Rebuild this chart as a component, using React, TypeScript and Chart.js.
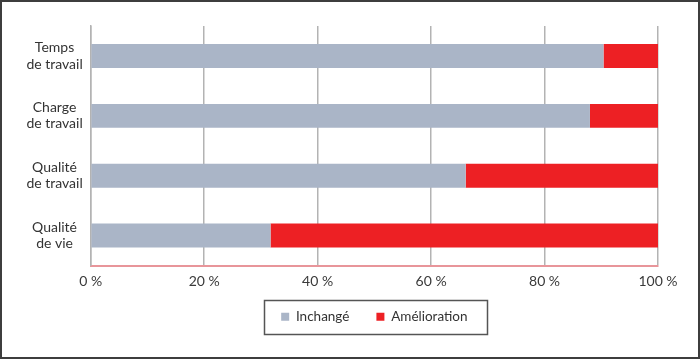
import React, { useEffect, useRef } from "react";
import { Chart, registerables } from "chart.js";

Chart.register(...registerables);

const categories: string[][] = [
  ["Temps", "de travail"],
  ["Charge", "de travail"],
  ["Qualité", "de travail"],
  ["Qualité", "de vie"],
];
const inchange: number[] = [90.4, 88.0, 66.1, 31.7];
const amelioration: number[] = [9.6, 12.0, 33.9, 68.3];
const seriesLabels: string[] = ["Inchangé", "Amélioration"];
const xTicks: number[] = [0, 20, 40, 60, 80, 100];

const FONT = "Lato, 'Open Sans', sans-serif";

const legendFrame = {
  id: "legendFrame",
  afterLayout(chart: any) {
    const lg = chart.legend;
    if (lg) {
      lg.top -= 12.5;
      lg.bottom -= 12.5;
    }
  },
  afterDraw(chart: any) {
    const lg = chart.legend;
    if (!lg || !lg.legendHitBoxes || !lg.legendHitBoxes.length) return;
    const hb = lg.legendHitBoxes;
    let minX = Infinity, maxX = -Infinity, minY = Infinity, maxY = -Infinity;
    for (const h of hb) {
      minX = Math.min(minX, h.left);
      maxX = Math.max(maxX, h.left + h.width);
      minY = Math.min(minY, h.top);
      maxY = Math.max(maxY, h.top + h.height);
    }
    const cy = (minY + maxY) / 2;
    const ctx = chart.ctx;
    ctx.save();
    ctx.strokeStyle = "#555555";
    ctx.lineWidth = 1.5;
    ctx.strokeRect(Math.round(minX - 17) + 0.5, Math.round(cy - 17) + 0.5, Math.round(maxX - minX + 37), 34);
    ctx.restore();
  },
};

export default function App() {
  const ref = useRef<HTMLCanvasElement | null>(null);
  useEffect(() => {
    if (!ref.current) return;
    const chart = new Chart(ref.current, {
      type: "bar",
      data: {
        labels: categories,
        datasets: [
          {
            label: seriesLabels[0],
            data: inchange,
            backgroundColor: "#aab5c7",
            borderWidth: 0,
            barPercentage: 0.4,
            categoryPercentage: 1,
          },
          {
            label: seriesLabels[1],
            data: amelioration,
            backgroundColor: "#ed2024",
            borderWidth: 0,
            barPercentage: 0.4,
            categoryPercentage: 1,
          },
        ],
      },
      options: {
        indexAxis: "y",
        responsive: false,
        animation: false,
        layout: { padding: { left: 0, right: 40, top: 23, bottom: 11 } },
        scales: {
          x: {
            stacked: true,
            min: 0,
            max: 100,
            afterBuildTicks: (scale: any) => {
              scale.ticks = xTicks.map((v) => ({ value: v }));
            },
            afterFit: (scale: any) => {
              scale.height = 30;
            },
            grid: { display: true, color: "#b3b3b3", lineWidth: 1.5, drawTicks: false },
            border: { display: true, color: "#e8959a", width: 2 },
            ticks: {
              padding: 8,
              color: "#3a3a3a",
              font: { family: FONT, size: 14 },
              callback: (v: any) => `${v} %`,
              maxRotation: 0,
            },
          },
          y: {
            stacked: true,
            afterFit: (scale: any) => {
              scale.width = 88.7;
            },
            grid: { display: false, drawTicks: false },
            border: { display: true, color: "#b3b3b3", width: 1.5 },
            ticks: {
              crossAlign: "center",
              padding: 8,
              color: "#333333",
              font: { family: FONT, size: 14, lineHeight: 1.15 },
            },
          },
        },
        plugins: {
          tooltip: { enabled: false },
          legend: {
            position: "bottom",
            fullSize: false,
            align: "center",
            labels: {
              boxWidth: 8,
              boxHeight: 8,
              padding: 27,
              color: "#333333",
              font: { family: FONT, size: 13.5 },
            },
          },
        },
      },
      plugins: [legendFrame],
    } as any);
    return () => chart.destroy();
  }, []);
  return (
    <div
      style={{
        position: "fixed",
        left: 0,
        top: 0,
        width: 700,
        height: 359,
        boxSizing: "border-box",
        border: "2px solid #3d3d3d",
        background: "#ffffff",
      }}
    >
      <canvas ref={ref} width={696} height={355} style={{ display: "block" }} />
    </div>
  );
}
